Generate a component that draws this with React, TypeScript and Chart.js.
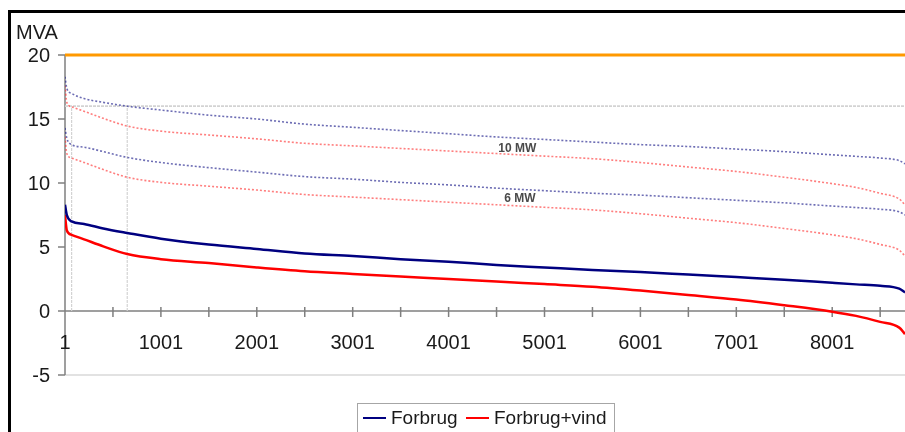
import React, { useEffect, useRef } from "react";
import { Chart, registerables } from "chart.js";

Chart.register(...registerables);

// hours of the year (duration curve, sorted)
const hours = [1, 20, 70, 200, 400, 650, 1001, 1500, 2001, 2500, 3001, 3500, 4001, 4500, 5001, 5500, 6001, 6500, 7001, 7501, 8001, 8250, 8501, 8700, 8760];

// MVA values
const forbrug = [8.3, 7.5, 7.0, 6.8, 6.45, 6.1, 5.65, 5.2, 4.85, 4.5, 4.3, 4.05, 3.85, 3.6, 3.4, 3.2, 3.05, 2.85, 2.65, 2.45, 2.2, 2.08, 1.97, 1.75, 1.45];
const forbrugVind = [7.5, 6.3, 5.95, 5.6, 5.05, 4.45, 4.05, 3.75, 3.4, 3.1, 2.9, 2.7, 2.5, 2.3, 2.1, 1.9, 1.6, 1.25, 0.9, 0.45, -0.05, -0.38, -0.85, -1.3, -1.8];
const forbrug10 = [18.3, 17.4, 17.0, 16.6, 16.3, 16.0, 15.7, 15.3, 15.0, 14.6, 14.35, 14.1, 13.85, 13.6, 13.4, 13.2, 13.0, 12.85, 12.65, 12.45, 12.2, 12.08, 11.95, 11.75, 11.5];
const forbrugVind10 = [17.6, 16.3, 15.95, 15.6, 15.05, 14.45, 14.05, 13.75, 13.45, 13.1, 12.9, 12.7, 12.5, 12.3, 12.1, 11.9, 11.6, 11.25, 10.9, 10.45, 9.95, 9.65, 9.2, 8.75, 8.3];
const forbrug6 = [14.3, 13.5, 13.0, 12.8, 12.45, 12.0, 11.6, 11.2, 10.85, 10.5, 10.3, 10.05, 9.85, 9.6, 9.4, 9.2, 9.05, 8.85, 8.65, 8.45, 8.2, 8.08, 7.95, 7.75, 7.5];
const forbrugVind6 = [13.6, 12.3, 11.95, 11.6, 11.05, 10.45, 10.05, 9.75, 9.45, 9.1, 8.9, 8.7, 8.5, 8.3, 8.1, 7.9, 7.6, 7.25, 6.9, 6.45, 5.95, 5.65, 5.2, 4.75, 4.3];

// reference lines
const capacityLimit = 20;
const refLevel = 16;
const refHours = [70, 650];
const xRange = [1, 8760];

// axis ticks
const yTicks = [20, 15, 10, 5, 0, -5];
const xLabelTicks = [1, 1001, 2001, 3001, 4001, 5001, 6001, 7001, 8001];
const xMinorTicks = [501, 1001, 1501, 2001, 2501, 3001, 3501, 4001, 4501, 5001, 5501, 6001, 6501, 7001, 7501, 8001, 8501];
const yTitle = "MVA";

// in-chart labels: [text, hour, value]
const mwLabels: [string, number, number][] = [
  ["10 MW", 4718, 12.7],
  ["6 MW", 4745, 8.75],
];

const seriesNames = ["Forbrug", "Forbrug+vind"];
const seriesColors = ["#000080", "#ff0000"];

const FONT = "'Liberation Sans', Arial, sans-serif";

const pts = (vals: number[]) => hours.map((h, i) => ({ x: h, y: vals[i] }));

export default function App() {
  const ref = useRef<HTMLCanvasElement>(null);

  useEffect(() => {
    document.body.style.overflow = "hidden";
    const canvas = ref.current!;
    const decor = {
      id: "decor",
      beforeDatasetsDraw(chart: any) {
        const { ctx, scales } = chart;
        const xs = scales.x;
        const ys = scales.y;
        const x0 = xs.getPixelForValue(xRange[0]);
        const x1 = xs.getPixelForValue(xRange[1]);
        ctx.save();
        // bottom gridline at -5
        ctx.strokeStyle = "#d9d9d9";
        ctx.lineWidth = 1.5;
        ctx.beginPath();
        ctx.moveTo(x0, ys.getPixelForValue(-5));
        ctx.lineTo(x1, ys.getPixelForValue(-5));
        ctx.stroke();
        // y axis
        ctx.strokeStyle = "#7f7f7f";
        ctx.lineWidth = 1.5;
        ctx.beginPath();
        ctx.moveTo(x0, ys.getPixelForValue(20));
        ctx.lineTo(x0, ys.getPixelForValue(-5));
        ctx.stroke();
        // y ticks + labels
        ctx.font = `20px ${FONT}`;
        ctx.fillStyle = "#1a1a1a";
        ctx.textAlign = "right";
        ctx.textBaseline = "alphabetic";
        yTicks.forEach((v) => {
          const y = ys.getPixelForValue(v);
          ctx.beginPath();
          ctx.moveTo(x0 - 7, y);
          ctx.lineTo(x0, y);
          ctx.stroke();
          ctx.fillText(String(v), x0 - 15, y + 7);
        });
        // x axis at 0
        const yz = ys.getPixelForValue(0);
        ctx.beginPath();
        ctx.moveTo(x0, yz);
        ctx.lineTo(x1, yz);
        ctx.stroke();
        xMinorTicks.forEach((h) => {
          const x = xs.getPixelForValue(h);
          ctx.beginPath();
          ctx.moveTo(x, yz - 4);
          ctx.lineTo(x, yz + 6);
          ctx.stroke();
        });
        ctx.textAlign = "center";
        xLabelTicks.forEach((h) => {
          ctx.fillText(String(h), xs.getPixelForValue(h), yz + 38);
        });
        // title
        ctx.textAlign = "left";
        ctx.fillText(yTitle, 16, 39);
        // frame
        ctx.fillStyle = "#000";
        ctx.fillRect(8, 10, 3, 432);
        ctx.fillRect(8, 10, 905, 3);
        ctx.restore();
      },
      afterDatasetsDraw(chart: any) {
        const { ctx, scales } = chart;
        ctx.save();
        ctx.font = `bold 12px ${FONT}`;
        ctx.fillStyle = "#4a4a4a";
        ctx.textAlign = "center";
        ctx.textBaseline = "middle";
        mwLabels.forEach(([t, h, v]) => {
          ctx.fillText(t, scales.x.getPixelForValue(h), scales.y.getPixelForValue(v));
        });
        ctx.restore();
      },
    };

    const smooth = { cubicInterpolationMode: "monotone", pointRadius: 0, fill: false };
    const dotted = (color: string) => ({
      borderColor: color,
      borderWidth: 1.6,
      borderDash: [2, 2],
      ...smooth,
    });
    const grey = {
      borderColor: "#d3d3d3",
      borderWidth: 1.8,
      borderDash: [3, 1],
      pointRadius: 0,
      fill: false,
      tension: 0,
    };

    const chart = new Chart(canvas, {
      type: "line",
      data: {
        datasets: [
          { label: seriesNames[0], data: pts(forbrug), borderColor: seriesColors[0], borderWidth: 2.5, ...smooth, order: 1 },
          { label: seriesNames[1], data: pts(forbrugVind), borderColor: seriesColors[1], borderWidth: 2.5, ...smooth, order: 2 },
          { label: "Forbrug 10 MW", data: pts(forbrug10), ...dotted("rgba(30,30,140,0.65)"), order: 3 },
          { label: "Forbrug+vind 10 MW", data: pts(forbrugVind10), ...dotted("rgba(255,40,40,0.6)"), order: 4 },
          { label: "Forbrug 6 MW", data: pts(forbrug6), ...dotted("rgba(30,30,140,0.65)"), order: 5 },
          { label: "Forbrug+vind 6 MW", data: pts(forbrugVind6), ...dotted("rgba(255,40,40,0.6)"), order: 6 },
          { label: "limit", data: xRange.map((h) => ({ x: h, y: capacityLimit })), borderColor: "#ff9900", borderWidth: 3, pointRadius: 0, order: 0, clip: 4 },
          { label: "ref", data: xRange.map((h) => ({ x: h, y: refLevel })), ...grey, order: 9 },
          ...refHours.map((h) => ({ label: "ref v", data: [{ x: h, y: 0 }, { x: h, y: refLevel }], ...grey, borderWidth: 1.2, order: 9 })),
        ] as any,
      },
      options: {
        animation: false,
        responsive: false,
        events: [],
        layout: { padding: { left: 65, top: 55, right: 0, bottom: 57 } },
        plugins: { legend: { display: false }, tooltip: { enabled: false } },
        scales: {
          x: { type: "linear", min: xRange[0], max: xRange[1], display: false },
          y: { type: "linear", min: -5, max: 20, display: false },
        },
      },
      plugins: [decor],
    });
    return () => chart.destroy();
  }, []);

  const textStyle: React.CSSProperties = {
    position: "absolute",
    font: `19px ${FONT}`,
    color: "#1a1a1a",
    top: 405,
    lineHeight: "26px",
    whiteSpace: "nowrap",
  };
  const lineStyle = (left: number, color: string): React.CSSProperties => ({
    position: "absolute",
    left,
    top: 417,
    width: 23,
    height: 2,
    background: color,
  });

  return (
    <div style={{ position: "absolute", left: 0, top: 0, width: 905, height: 432, overflow: "hidden", background: "#fff" }}>
      <canvas ref={ref} width={905} height={432} style={{ position: "absolute", left: 0, top: 0, width: 905, height: 432 }} />
      <div
        style={{
          position: "absolute",
          left: 357,
          top: 403,
          width: 256,
          height: 29,
          borderTop: "1.5px solid #a6a6a6",
          borderLeft: "1.5px solid #a6a6a6",
          borderRight: "1.5px solid #a6a6a6",
        }}
      />
      <div style={lineStyle(363, seriesColors[0])} />
      <div style={{ ...textStyle, left: 391 }}>{seriesNames[0]}</div>
      <div style={lineStyle(466, seriesColors[1])} />
      <div style={{ ...textStyle, left: 494 }}>{seriesNames[1]}</div>
    </div>
  );
}
